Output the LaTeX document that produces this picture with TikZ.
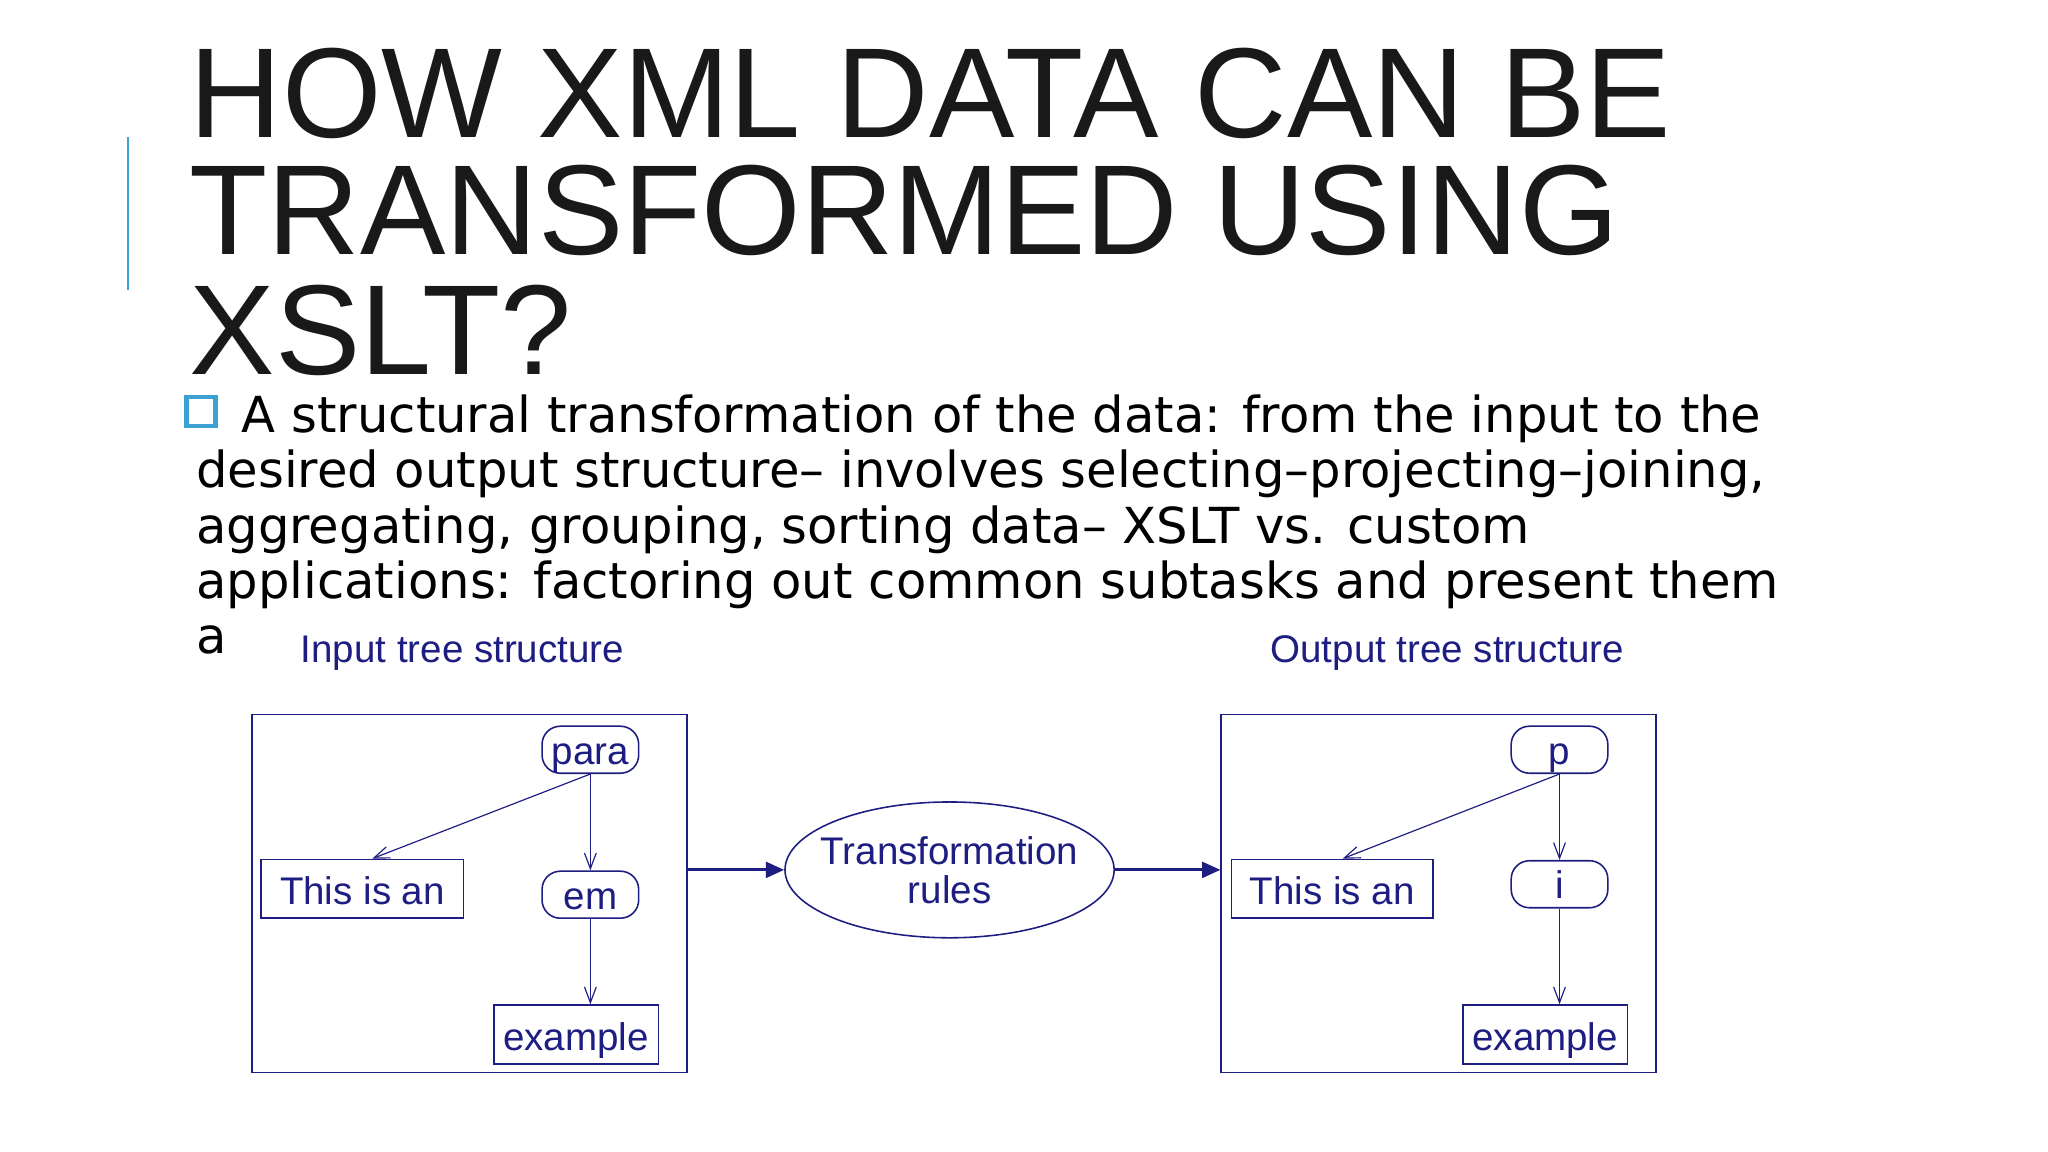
\documentclass[tikz,border=0pt]{standalone}
\usepackage{fontspec}
\setmainfont{Liberation Sans}
\newfontfamily\bodyf{DejaVu Sans}
\usetikzlibrary{arrows.meta,shapes.geometric}
\definecolor{navy}{RGB}{30,30,130}
\definecolor{barblue}{RGB}{60,160,210}
\tikzset{
 dg/.style={draw=navy,text=navy,line width=1.2pt,font=\fontsize{29.5}{32}\selectfont,inner sep=0pt},
 pill/.style={dg,rounded corners=14pt,minimum width=74pt,minimum height=36pt,text depth=0pt,text height=22pt},
 leaf/.style={dg,rectangle,minimum height=45pt,text height=24pt,text depth=0pt},
 thin/.style={draw=navy,line width=0.9pt,-{Straight Barb[length=12pt,width=9pt]}},
 thick/.style={draw=navy,line width=2.4pt,-{Triangle[length=14pt,width=12pt]}},
 frame/.style={draw=navy,line width=1.2pt},
 title/.style={anchor=base west,inner sep=0pt,font=\fontsize{98}{100}\selectfont,text=black!90},
 body/.style={anchor=base west,inner sep=0pt,font=\bodyf\fontsize{38}{40}\selectfont}
}
\begin{document}
\begin{tikzpicture}[x=1pt,y=-1pt]
\useasboundingbox (0,0) rectangle (1568,882);
\fill[white] (0,0) rectangle (1568,882);
\draw[barblue,line width=2pt] (98,105) -- (98,222);
\node[title] (t1) at (145,105) {HOW XML DATA CAN BE};
\node[title] (t2) at (145,195) {TRANSFORMED USING};
\node[title] (t3) at (145,287) {XSLT?};
\draw[barblue,line width=3.5pt] (143,304) rectangle (165,326);
\node[body] (b1) at (185,331) {A structural transformation of the data: from the input to the};
\node[body] (b2) at (150,373) {desired output structure– involves selecting–projecting–joining,};
\node[body] (b3) at (150,416) {aggregating, grouping, sorting data– XSLT vs. custom};
\node[body] (b4) at (150,458) {applications: factoring out common subtasks and present them};
\node[body] (b5) at (150,500) {a};
\node[text=navy,font=\fontsize{29.5}{32}\selectfont] (lt) at (354,500) {Input tree structure};
\node[text=navy,font=\fontsize{29.5}{32}\selectfont] (rt) at (1108,500) {Output tree structure};
% frames
\node[frame,minimum width=333pt,minimum height=274pt,inner sep=0pt] (lbox) at (359.5,684) {};
\node[frame,minimum width=333pt,minimum height=274pt,inner sep=0pt] (rbox) at (1101.5,684) {};
% left tree
\node[pill] (para) at (452,574) {para};
\node[pill] (em) at (452,685) {em};
\node[leaf,minimum width=155pt] (this1) at (277.5,680.5) {This is an};
\node[leaf,minimum width=126pt] (ex1) at (441,792) {example};
\draw[thin] (para.south) -- (this1.north -| 285,0);
\draw[thin] (para) -- (em);
\draw[thin] (em) -- (em |- ex1.north);
% right tree
\node[pill] (p) at (1194,574) {p};
\node[pill] (i) at (1194,677) {i};
\node[leaf,minimum width=154pt] (this2) at (1020,680.5) {This is an};
\node[leaf,minimum width=126pt] (ex2) at (1183,792) {example};
\draw[thin] (p.south) -- (this2.north -| 1028,0);
\draw[thin] (p) -- (i);
\draw[thin] (i) -- (i |- ex2.north);
% middle
\node[dg,ellipse,inner xsep=-14pt,inner ysep=-10pt,minimum width=252pt,minimum height=104pt,align=center] (tr) at (727,666) {\raisebox{-8pt}{Transformation}\\[-2pt]\raisebox{-8pt}{rules}};
\draw[thick] (lbox.east |- tr.west) -- (tr.west);
\draw[thick] (tr.east) -- (rbox.west |- tr.east);
\end{tikzpicture}
\end{document}
